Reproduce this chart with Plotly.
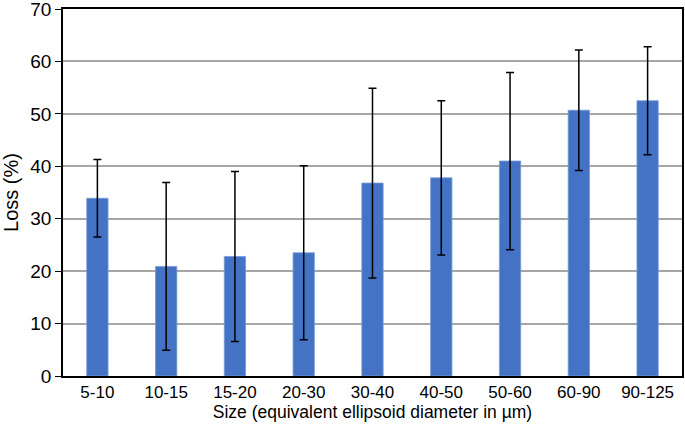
import plotly.graph_objects as go

categories = ["5-10", "10-15", "15-20", "20-30", "30-40", "40-50", "50-60", "60-90", "90-125"]
loss_values = [33.9, 20.9, 22.8, 23.5, 36.8, 37.8, 41.0, 50.7, 52.5]
loss_errors = [7.4, 16.0, 16.2, 16.6, 18.1, 14.7, 16.9, 11.5, 10.3]
y_ticks = [0, 10, 20, 30, 40, 50, 60, 70]

fig = go.Figure()
fig.add_trace(go.Bar(
    x=categories,
    y=loss_values,
    width=0.31,
    marker=dict(color="#4472C4", line=dict(color="#7a9bd6", width=0.8)),
    error_y=dict(type="data", array=loss_errors, visible=True,
                 color="black", thickness=1.5, width=4),
))

font_family = "Liberation Sans, Arial, sans-serif"
fig.update_layout(
    width=685, height=434,
    margin=dict(l=63, r=3, t=9, b=58),
    paper_bgcolor="white", plot_bgcolor="white",
    showlegend=False,
    font=dict(family=font_family, color="black", size=17),
    xaxis=dict(
        showline=True, linecolor="black", linewidth=1.5, mirror=True,
        ticks="", tickfont=dict(size=17), automargin=False,
        title=dict(text="Size (equivalent ellipsoid diameter in µm)", font=dict(size=17.5), standoff=0),
    ),
    yaxis=dict(
        range=[0, 70], tickvals=y_ticks, automargin=False,
        showline=True, linecolor="black", linewidth=1.5, mirror=True,
        ticks="outside", ticklen=6, tickcolor="black", tickwidth=1.2,
        showgrid=True, gridcolor="#a6a6a6", gridwidth=1.5,
        tickfont=dict(size=19), ticklabeloverflow="allow",
        title=dict(text="Loss (%)", font=dict(size=20), standoff=10),
        zeroline=False,
    ),
)

fig.write_html("out.html", config={"displayModeBar": False},
               post_script="document.body.style.margin='0';document.body.style.overflow='hidden';")
